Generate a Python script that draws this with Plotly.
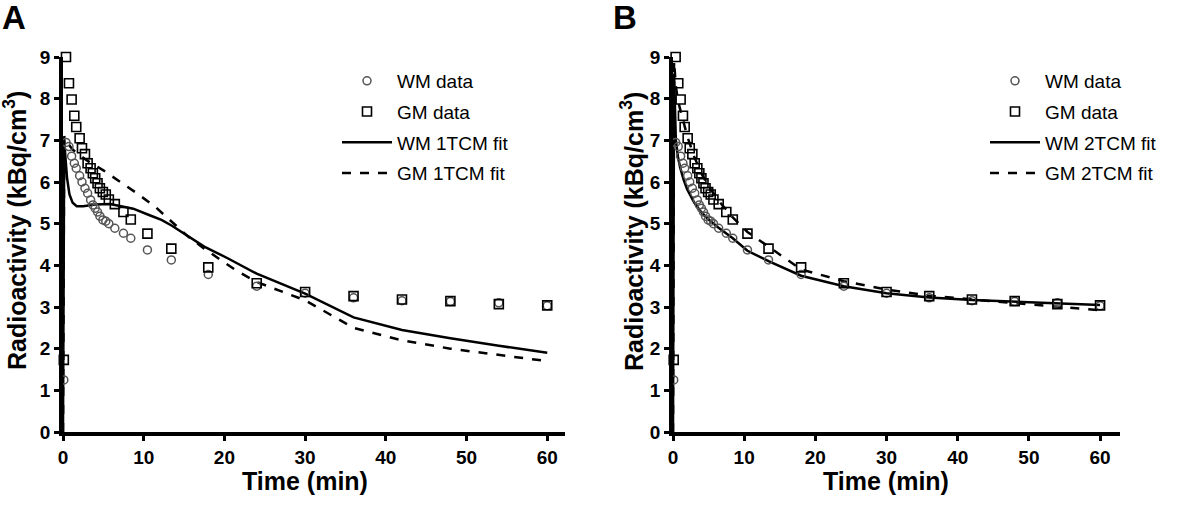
import plotly.graph_objects as go

# ---------------- data ----------------
t_data = [0.1, 0.37, 0.74, 1.07, 1.40, 1.64, 2.06, 2.35, 2.72, 3.05, 3.42, 3.70, 3.99, 4.28,
          4.57, 4.94, 5.30, 5.68, 6.42, 7.49, 8.40, 10.46, 13.42, 18.0, 24.0, 30.0, 36.0,
          42.0, 48.0, 54.0, 60.0]
gm_data = [1.73, 9.0, 8.37, 7.98, 7.59, 7.32, 7.05, 6.81, 6.67, 6.45, 6.33, 6.21, 6.09, 5.97,
           5.85, 5.76, 5.70, 5.58, 5.47, 5.28, 5.10, 4.76, 4.40, 3.95, 3.57, 3.36, 3.26,
           3.18, 3.14, 3.07, 3.04]
wm_data = [1.25, 6.95, 6.85, 6.62, 6.45, 6.33, 6.15, 6.00, 5.85, 5.73, 5.57, 5.45, 5.37, 5.28,
           5.18, 5.09, 5.06, 5.00, 4.89, 4.77, 4.65, 4.37, 4.13, 3.78, 3.50, 3.33, 3.22,
           3.15, 3.13, 3.10, 3.03]

# Panel A: one-tissue compartment model fits
t_wm_1tcm = [0, 0.15, 0.3, 0.5, 0.8, 1.2, 1.7, 2.5, 4.0, 5.8, 7.2, 8.7, 10.5, 12.2, 13.5,
             14.65, 16.0, 17.5, 20.4, 24.0, 30.0, 36.0, 42.0, 48.0, 54.0, 60.0]
wm_1tcm = [0, 7.0, 6.6, 6.1, 5.7, 5.5, 5.42, 5.42, 5.46, 5.47, 5.42, 5.36, 5.22, 5.09, 4.95,
           4.80, 4.63, 4.45, 4.17, 3.80, 3.32, 2.75, 2.45, 2.25, 2.07, 1.90]
t_gm_1tcm = [0, 0.15, 0.5, 1.2, 2.0, 3.1, 5.0, 6.8, 9.0, 11.4, 13.5, 15.5, 17.5, 19.6, 21.5,
             24.0, 30.0, 36.0, 42.0, 48.0, 54.0, 60.0]
gm_1tcm = [0, 7.1, 6.95, 6.78, 6.65, 6.5, 6.28, 6.05, 5.75, 5.41, 5.05, 4.69, 4.40, 4.13, 3.87,
           3.60, 3.16, 2.50, 2.20, 2.00, 1.85, 1.70]

# Panel B: two-tissue compartment model fits
t_2tcm = [0, 0.15, 0.4, 0.7, 1.0, 1.5, 2.0, 3.0, 4.0, 5.0, 6.4, 8.4, 10.46, 13.42, 18.0,
          24.0, 30.0, 36.0, 42.0, 48.0, 54.0, 60.0]
wm_2tcm = [0, 8.6, 7.0, 6.6, 6.35, 6.05, 5.82, 5.5, 5.27, 5.1, 4.9, 4.65, 4.35, 4.10, 3.75,
           3.50, 3.33, 3.23, 3.17, 3.13, 3.09, 3.05]
gm_2tcm = [0, 8.9, 8.3, 7.95, 7.75, 7.4, 7.1, 6.6, 6.2, 5.9, 5.55, 5.15, 4.80, 4.45, 3.90,
           3.62, 3.42, 3.27, 3.18, 3.10, 3.00, 2.92]

x_ticks = [0, 10, 20, 30, 40, 50, 60]
y_ticks = [0, 1, 2, 3, 4, 5, 6, 7, 8, 9]

# ---------------- styling ----------------
REG = "Liberation Sans, Arial, sans-serif"
W, H = 1200, 510


def px(x):
    return x / W


def py(y):
    return 1 - y / H


fig = go.Figure()

panels = [
    dict(xa="x", ya="y", leg="legend", tag="1TCM",
         fits=[(t_wm_1tcm, wm_1tcm), (t_gm_1tcm, gm_1tcm)]),
    dict(xa="x2", ya="y2", leg="legend2", tag="2TCM",
         fits=[(t_2tcm, wm_2tcm), (t_2tcm, gm_2tcm)]),
]

for p in panels:
    (tw, yw), (tg, yg) = p["fits"]
    fig.add_trace(go.Scatter(
        x=tw, y=yw, mode="lines", name=f"WM {p['tag']} fit",
        line=dict(color="black", width=2.5), xaxis=p["xa"], yaxis=p["ya"],
        legend=p["leg"], legendgroup=p["leg"] + "c", legendrank=3, cliponaxis=False))
    fig.add_trace(go.Scatter(
        x=tg, y=yg, mode="lines", name=f"GM {p['tag']} fit",
        line=dict(color="black", width=2.5, dash="dash"), xaxis=p["xa"], yaxis=p["ya"],
        legend=p["leg"], legendgroup=p["leg"] + "d", legendrank=4, cliponaxis=False))
    fig.add_trace(go.Scatter(
        x=t_data, y=wm_data, mode="markers", name="WM data",
        marker=dict(symbol="circle-open", size=8, color="#555555", line=dict(width=1.5)),
        xaxis=p["xa"], yaxis=p["ya"], legend=p["leg"], legendgroup=p["leg"] + "a",
        legendrank=1, cliponaxis=False))
    fig.add_trace(go.Scatter(
        x=t_data, y=gm_data, mode="markers", name="GM data",
        marker=dict(symbol="square-open", size=9, color="black", line=dict(width=1.6)),
        xaxis=p["xa"], yaxis=p["ya"], legend=p["leg"], legendgroup=p["leg"] + "b",
        legendrank=2, cliponaxis=False))

axis_common = dict(showline=True, linecolor="black", linewidth=3.5, ticks="outside",
                   ticklen=5, tickwidth=3, tickcolor="black", showgrid=False, zeroline=False,
                   automargin=False,
                   tickfont=dict(family=REG, size=19, color="black", weight="bold"))

y_dom = [py(432), py(57)]
legend_common = dict(yanchor="top", xanchor="left", bgcolor="rgba(0,0,0,0)",
                     font=dict(family=REG, size=19, color="black"),
                     tracegroupgap=3, itemwidth=50)
fig.update_layout(
    width=W, height=H, margin=dict(l=0, r=0, t=0, b=0, autoexpand=False),
    paper_bgcolor="white", plot_bgcolor="white", showlegend=True,
    xaxis=dict(domain=[px(63), px(565)], range=[0, 62.2], tickvals=x_ticks, anchor="y",
               **axis_common),
    yaxis=dict(domain=y_dom, range=[0, 9], tickvals=y_ticks, anchor="x", **axis_common),
    xaxis2=dict(domain=[px(673), px(1120)], range=[0, 62.8], tickvals=x_ticks, anchor="y2",
                **axis_common),
    yaxis2=dict(domain=y_dom, range=[0, 9], tickvals=y_ticks, anchor="x2", **axis_common),
    legend=dict(x=px(337), y=py(62), **legend_common),
    legend2=dict(x=px(985), y=py(62), **legend_common),
)

ann_font_title = dict(family=REG, size=25, color="black", weight="bold")
annotations = [
    dict(text="A", x=px(0), y=py(-3), xanchor="left", yanchor="top",
         font=dict(family=REG, size=33, color="black", weight="bold")),
    dict(text="B", x=px(611), y=py(-3), xanchor="left", yanchor="top",
         font=dict(family=REG, size=33, color="black", weight="bold")),
    dict(text="Radioactivity (kBq/cm<sup>3</sup>)", x=px(15), y=py(231), textangle=-90,
         xanchor="center", yanchor="middle", font=ann_font_title),
    dict(text="Radioactivity (kBq/cm<sup>3</sup>)", x=px(632), y=py(231), textangle=-90,
         xanchor="center", yanchor="middle", font=ann_font_title),
    dict(text="Time (min)", x=px(305), y=py(481), xanchor="center", yanchor="middle",
         font=ann_font_title),
    dict(text="Time (min)", x=px(886), y=py(481), xanchor="center", yanchor="middle",
         font=ann_font_title),
]
for a in annotations:
    a.update(xref="paper", yref="paper", showarrow=False)
fig.update_layout(annotations=annotations)

# remove the default page margin so the figure sits at the window's top-left corner
fig.write_html("out.html", config={"displayModeBar": False},
               post_script="document.body.style.margin='0';")
